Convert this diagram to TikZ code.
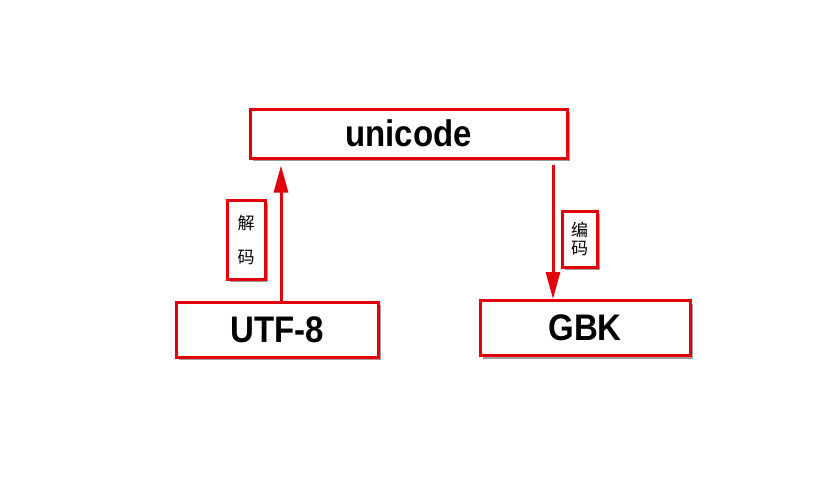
\documentclass[tikz,border=0pt]{standalone}
\usepackage{fontspec}
\setmainfont{Liberation Sans}
\newfontfamily\cjk{Noto Sans CJK SC}
\usetikzlibrary{arrows.meta,shadows}
\definecolor{boxred}{RGB}{228,0,10}
\newcommand{\tallbox}[1]{\scalebox{1}[1.12]{#1}}
\tikzset{
  bigbox/.style={draw=boxred, line width=3pt, fill=white, inner sep=0pt,
    drop shadow={shadow xshift=3pt, shadow yshift=-3pt, fill=black!55, opacity=0.7},
    font=\fontsize{33}{36}\selectfont\bfseries},
  lblbox/.style={draw=boxred, line width=3pt, fill=white, inner sep=0pt,
    drop shadow={shadow xshift=2.5pt, shadow yshift=-2.5pt, fill=black!55, opacity=0.7},
    font=\cjk\fontsize{17}{20}\selectfont, align=center},
  conn/.style={draw=boxred, line width=3pt, -{Triangle[length=27pt,width=14pt]}}
}
\begin{document}
\begin{tikzpicture}[x=1pt,y=-1pt]
\useasboundingbox (0,0) rectangle (823,493);
\node[bigbox, minimum width=317pt, minimum height=49pt] (uni) at (408.5,133.5) {\tallbox{unicode}};
\node[bigbox, minimum width=202pt, minimum height=55pt] (utf) at (277,329.5) {\tallbox{UTF-8}};
\node[bigbox, minimum width=210pt, minimum height=55pt] (gbk) at (585,328) {\tallbox{GBK}};
\node[lblbox, minimum width=38pt, minimum height=79pt] (dec) at (246,239.5) {解\\[14pt]码};
\node[lblbox, minimum width=35pt, minimum height=56pt] (enc) at (579.5,239) {编\\[-2pt]码};
\coordinate (a1) at (281,301);
\coordinate (a2) at (553,162);
\draw[conn, shorten >=6pt] (utf.north -| a1) -- (uni.south -| a1);
\draw[conn, shorten <=5pt] (uni.south -| a2) -- (gbk.north -| a2);
\end{tikzpicture}
\end{document}
